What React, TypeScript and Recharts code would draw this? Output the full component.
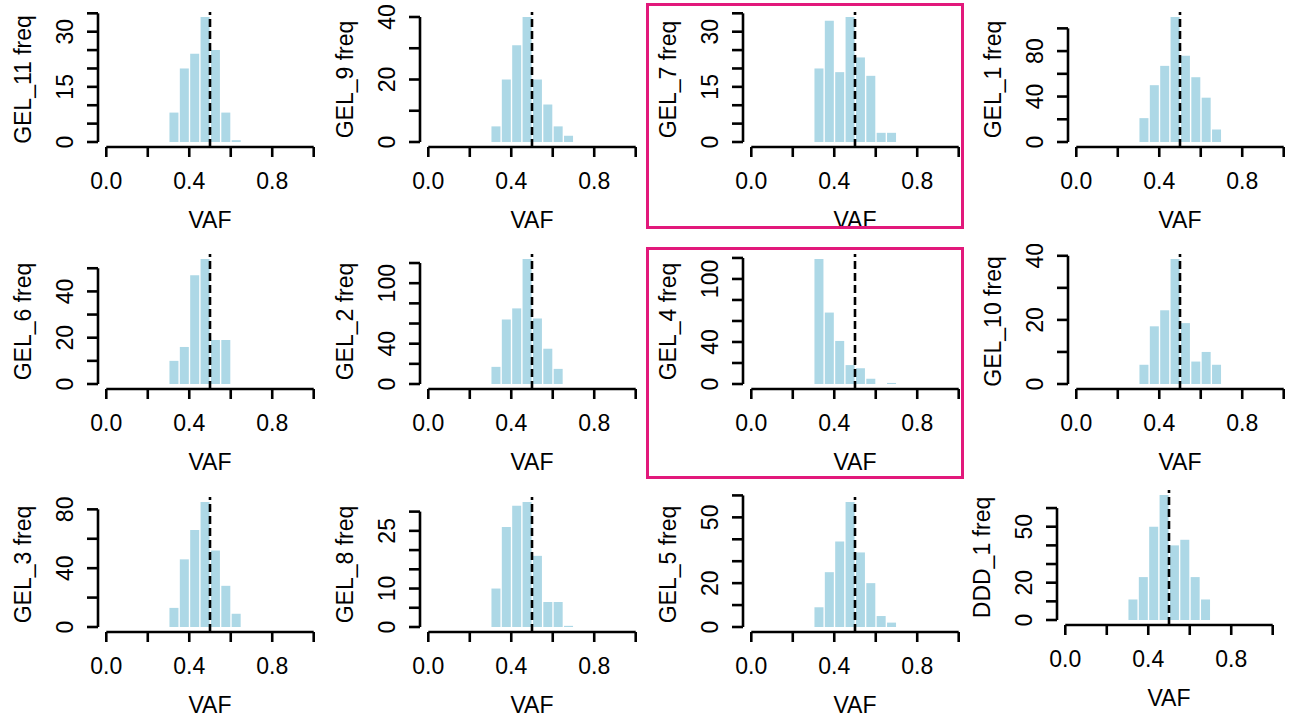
import { BarChart, Bar, XAxis, YAxis, ReferenceLine } from 'recharts';

// histogram bins (bin start), 0.05 wide over 0..1
const vafBins = ['0.00', '0.05', '0.10', '0.15', '0.20', '0.25', '0.30', '0.35', '0.40', '0.45',
  '0.50', '0.55', '0.60', '0.65', '0.70', '0.75', '0.80', '0.85', '0.90', '0.95'];
const binMids = [0.025, 0.075, 0.125, 0.175, 0.225, 0.275, 0.325, 0.375, 0.425, 0.475,
  0.525, 0.575, 0.625, 0.675, 0.725, 0.775, 0.825, 0.875, 0.925, 0.975];
const firstFilledBin = 6; // counts below start at the 0.30 bin

// counts for bins 0.30 .. 0.65
const gel11 = [8, 20, 24, 34, 25, 8, 0.5, 0];
const gel9 = [5, 20, 31, 40, 20, 12, 5, 2];
const gel7 = [20, 33, 19, 34, 23, 18, 2.5, 2.5];
const gel1 = [21, 50, 67, 110, 76, 57, 39, 11];
const gel6 = [10, 16, 47, 54, 19, 19, 0, 0];
const gel2 = [17, 64, 75, 124, 65, 35, 15, 0];
const gel4 = [119, 68, 41, 18, 15, 5, 0, 1];
const gel10 = [6, 18, 23, 39, 19, 7, 10, 6];
const gel3 = [13, 46, 66, 85, 52, 28, 9, 0];
const gel8 = [10, 26, 31.5, 32.5, 18.5, 6.5, 6.5, 0.3];
const gel5 = [9, 25, 39, 57, 34, 20, 5, 2];
const ddd1 = [11, 23, 50, 67, 40, 43, 23, 11];

const samples = ['GEL_11', 'GEL_9', 'GEL_7', 'GEL_1', 'GEL_6', 'GEL_2', 'GEL_4', 'GEL_10', 'GEL_3', 'GEL_8', 'GEL_5', 'DDD_1'];
const sampleCounts = [gel11, gel9, gel7, gel1, gel6, gel2, gel4, gel10, gel3, gel8, gel5, ddd1];

const yTicks = [
  [0, 5, 10, 15, 20, 25, 30, 35],
  [0, 10, 20, 30, 40],
  [0, 5, 10, 15, 20, 25, 30, 35],
  [0, 20, 40, 60, 80, 100],
  [0, 10, 20, 30, 40, 50],
  [0, 20, 40, 60, 80, 100, 120],
  [0, 20, 40, 60, 80, 100, 120],
  [0, 10, 20, 30, 40],
  [0, 20, 40, 60, 80],
  [0, 5, 10, 15, 20, 25, 30],
  [0, 10, 20, 30, 40, 50, 60],
  [0, 10, 20, 30, 40, 50, 60],
];
const yLabels = [
  [0, 15, 30], [0, 20, 40], [0, 15, 30], [0, 40, 80],
  [0, 20, 40], [0, 40, 100], [0, 40, 100], [0, 20, 40],
  [0, 40, 80], [0, 10, 25], [0, 20, 50], [0, 20, 50],
];
const xTicks = [0, 0.2, 0.4, 0.6, 0.8, 1];
const xLabels = [0, 0.4, 0.8];
const meanVaf = 0.5;
const highlighted = ['GEL_7', 'GEL_4'];

// layout: top-left corner of each plot region
const cells = [
  { left: 97.7, top: 12 }, { left: 419.7, top: 12 }, { left: 742.7, top: 12 }, { left: 1067.7, top: 12 },
  { left: 97.7, top: 254 }, { left: 419.7, top: 254 }, { left: 742.7, top: 254 }, { left: 1067.7, top: 254 },
  { left: 97.7, top: 497 }, { left: 419.7, top: 497 }, { left: 742.7, top: 497 }, { left: 1056.7, top: 490 },
];
const boxes = [
  { left: 646, top: 3, width: 318, height: 226 },
  { left: 646, top: 247, width: 318, height: 232 },
];

const FS = 23;
const FONT = '"Liberation Sans", Arial, sans-serif';
const LW = 2.6;
const PW = 224;
const PH = 135;
const PAD = (PW * 0.04) / 1.08;

function Panel({ idx }: { idx: number }) {
  const counts = sampleCounts[idx];
  const data = vafBins.map((bin, i) => ({
    bin,
    mid: binMids[i],
    count: i >= firstFilledBin && i - firstFilledBin < counts.length ? counts[i - firstFilledBin] : 0,
  }));
  const maxC = Math.max(...counts);
  const yMin = -0.04 * maxC;
  const yMax = 1.04 * maxC;
  const ticks = yTicks[idx];
  const labels = yLabels[idx];
  const cell = cells[idx];

  const yTick = (p: any) => {
    if (!labels.includes(p.payload.value)) return <g />;
    const bx = p.x - 22 + 0.36 * FS;
    return (
      <text x={bx} y={p.y} transform={`rotate(-90 ${bx} ${p.y})`} textAnchor="middle"
        fontSize={FS} fontFamily={FONT} fill="#000">{p.payload.value}</text>
    );
  };
  const xTick = (p: any) => {
    if (!xLabels.includes(p.payload.value)) return <g />;
    return (
      <text x={p.x} y={p.y + 9 + 0.35 * FS} textAnchor="middle" fontSize={FS} fontFamily={FONT} fill="#000">
        {p.payload.value.toFixed(1)}
      </text>
    );
  };
  const yTitle = (p: any) => {
    const vb = p.viewBox;
    const bx = vb.x + 40 - 75 + 0.36 * FS;
    const cy = vb.y + vb.height / 2;
    return (
      <text x={bx} y={cy} transform={`rotate(-90 ${bx} ${cy})`} textAnchor="middle"
        fontSize={FS} fontFamily={FONT} fill="#000">{samples[idx] + ' freq'}</text>
    );
  };
  const xTitle = (p: any) => {
    const vb = p.viewBox;
    return (
      <text x={vb.x + vb.width / 2} y={vb.y + 73 + 0.36 * FS} textAnchor="middle" fontSize={FS}
        fontFamily={FONT} fill="#000">
        VAF
      </text>
    );
  };

  return (
    <div style={{ position: 'absolute', left: cell.left - 100, top: cell.top - 10 }}>
      <BarChart width={100 + PW + 10} height={10 + PH + 100} data={data}
        margin={{ top: 10, right: 10, left: 60, bottom: 70 }} barCategoryGap="9%">
        <XAxis xAxisId="b" dataKey="bin" type="category" hide height={0} padding={{ left: PAD, right: PAD }} />
        <XAxis xAxisId="v" dataKey="mid" type="number" scale="linear" domain={[-0.04, 1.04]} allowDataOverflow
          ticks={xTicks} interval={0}
          axisLine={false} tickLine={{ stroke: '#000', strokeWidth: LW }} tickSize={10} tickMargin={15}
          height={30} tick={xTick} label={{ content: xTitle }} />
        <YAxis type="number" domain={[yMin, yMax]} allowDataOverflow ticks={ticks} interval={0}
          axisLine={false} tickLine={{ stroke: '#000', strokeWidth: LW }} tickSize={11} tickMargin={0}
          width={40} tick={yTick} label={{ content: yTitle }} />
        <Bar xAxisId="b" dataKey="count" fill="#ADD8E6" isAnimationActive={false} />
        <ReferenceLine xAxisId="v" x={meanVaf} stroke="#000" strokeWidth={LW} strokeDasharray="8 4" />
        <ReferenceLine xAxisId="v" stroke="#000" strokeWidth={LW} ifOverflow="visible"
          segment={[{ x: 0, y: yMin }, { x: 1, y: yMin }]} />
        <ReferenceLine xAxisId="v" stroke="#000" strokeWidth={LW} ifOverflow="visible"
          segment={[{ x: -0.04, y: 0 }, { x: -0.04, y: ticks[ticks.length - 1] }]} />
      </BarChart>
    </div>
  );
}

export default function App() {
  return (
    <div style={{ position: 'absolute', left: 0, top: 0, width: 1294, height: 720, background: '#fff', fontFamily: FONT }}>
      {samples.map((s, i) => <Panel key={s} idx={i} />)}
      {highlighted.map((s, i) => (
        <div key={s} style={{
          position: 'absolute', left: boxes[i].left, top: boxes[i].top, width: boxes[i].width,
          height: boxes[i].height, border: '3px solid #E2187B', boxSizing: 'border-box',
        }} />
      ))}
    </div>
  );
}
